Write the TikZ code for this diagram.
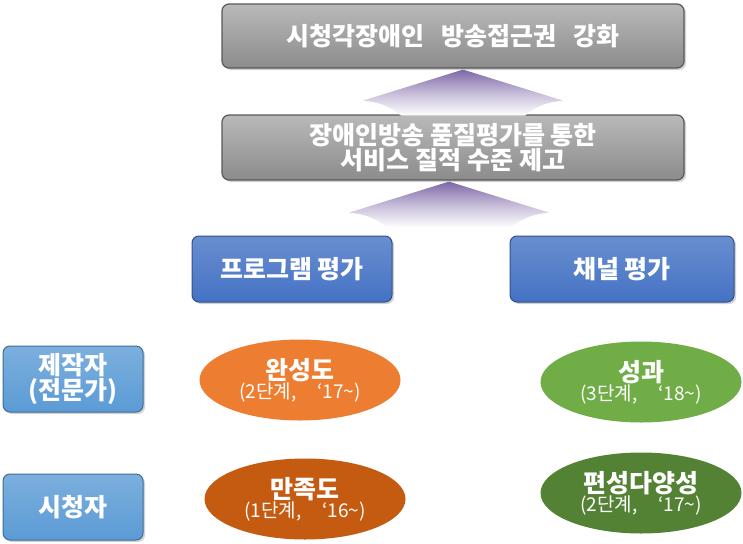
\documentclass[tikz,border=0pt]{standalone}
\usepackage{fontspec}
\setmainfont{Noto Sans CJK KR}
\usepackage{tikz}
\usetikzlibrary{shadows,shapes.geometric}

\definecolor{boxgray}{HTML}{9B9B9B}
\definecolor{boxblue}{HTML}{4472C4}
\definecolor{boxsky}{HTML}{5B9BD5}
\definecolor{ovorange}{HTML}{ED7D31}
\definecolor{ovrust}{HTML}{C55A11}
\definecolor{ovgreen}{HTML}{70AD47}
\definecolor{ovforest}{HTML}{548235}
\definecolor{fanviolet}{HTML}{7E68A8}

\newcommand{\bigtxt}{\fontsize{25}{28}\selectfont\bfseries}
\newcommand{\smalltxt}{\fontsize{19}{21}\selectfont}

\begin{document}
\begin{tikzpicture}[x=1pt,y=-1pt,every node/.style={align=center,text=white,inner sep=0pt},
    goalbox/.style={shape=rectangle,rounded corners=7pt,draw=black!65,line width=1.2pt,top color=boxgray!70,bottom color=boxgray!90!black,minimum width=462pt,minimum height=64pt,drop shadow={shadow xshift=2pt,shadow yshift=-2pt,fill=black!35}},
    evalbox/.style={shape=rectangle,rounded corners=7pt,draw=boxblue!70!black,line width=1pt,top color=boxblue!80,bottom color=boxblue,minimum height=66pt,drop shadow={shadow xshift=2pt,shadow yshift=-2pt,fill=black!35}},
    whobox/.style={shape=rectangle,rounded corners=7pt,draw=boxsky!70!black,line width=1pt,top color=boxsky!80,bottom color=boxsky,minimum width=140pt,minimum height=66pt,drop shadow={shadow xshift=2pt,shadow yshift=-2pt,fill=black!35}},
    oval/.style={shape=ellipse,minimum width=201pt,minimum height=81pt}]
  \useasboundingbox (0,0) rectangle (743,543);

  \node[goalbox] (goal) at (453,36) {\bigtxt 시청각장애인\hspace{0.7em}방송접근권\hspace{0.7em}강화};
  \node[goalbox,minimum height=65pt] (quality) at (453,147.5) {\bigtxt 장애인방송 품질평가를 통한\\\bigtxt 서비스 질적 수준 제고};

  \node[evalbox,minimum width=200pt] (prog) at (292,269) {\bigtxt 프로그램 평가};
  \node[evalbox,minimum width=224pt] (chan) at (622,269) {\bigtxt 채널 평가};

  \node[whobox] (maker) at (73,379) {\bigtxt 제작자\\\bigtxt (전문가)};
  \node[whobox] (viewer) at (73,507) {\bigtxt 시청자};

  \node[oval,fill=ovorange] (done) at (300,380) {\bigtxt 완성도\\\smalltxt (2단계,\hspace{1.1em}‘17\textasciitilde)};
  \node[oval,fill=ovrust] (satis) at (305,499) {\bigtxt 만족도\\\smalltxt (1단계,\hspace{1.1em}‘16\textasciitilde)};
  \node[oval,fill=ovgreen] (result) at (641,382) {\bigtxt 성과\\\smalltxt (3단계,\hspace{1.1em}‘18\textasciitilde)};
  \node[oval,fill=ovforest] (variety) at (641,493) {\bigtxt 편성다양성\\\smalltxt (2단계,\hspace{1.1em}‘17\textasciitilde)};

  \foreach \tip/\dx in {goal/10,quality/-4}{
    \begin{scope}[shift={(\tip.south)},xshift=\dx pt]
      \shade[top color=fanviolet,bottom color=white,middle color=fanviolet!45]
        (0,1) -- (-100,32) .. controls (-80,34) and (-70,40) .. (-62,47)
        -- (62,47) .. controls (70,40) and (80,34) .. (100,32) -- cycle;
    \end{scope}
  }
\end{tikzpicture}
\end{document}
